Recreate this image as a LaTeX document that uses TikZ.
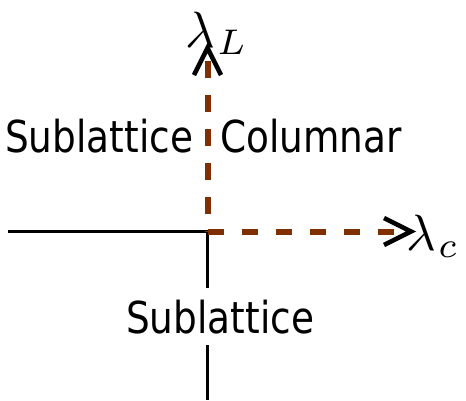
\documentclass[tikz,border=0pt]{standalone}
\usepackage{graphicx}
\usepackage{fontspec}
\setmainfont{DejaVu Sans}[FakeStretch=0.85]
\usetikzlibrary{calc}
\definecolor{axisbrown}{RGB}{128,48,0}
\tikzset{
  dashaxis/.style={draw=axisbrown, line width=6pt, dash pattern=on 16.5pt off 17.5pt},
  plainaxis/.style={draw=black, line width=2.5pt},
  chevron/.style={draw=black, line width=4.5pt, line join=miter, line cap=butt},
  phaselabel/.style={anchor=base west, inner sep=0pt, font=\fontsize{44}{52}\selectfont},
  axislabel/.style={anchor=base west, inner sep=0pt}
}
\begin{document}
\begin{tikzpicture}[x=1pt,y=-1pt]
\useasboundingbox (0,0) rectangle (466,400);
% coordinates
\coordinate (O) at (207.5,231.5);
\coordinate (Ttip) at (207.5,48);
\coordinate (Tstart) at (207.5,61);
\coordinate (Rtip) at (411,231.5);
\coordinate (Rend) at (397,231.5);
\coordinate (Lend) at (8,231.5);
\coordinate (Bgap1) at (207.5,288);
\coordinate (Bgap2) at (207.5,345);
\coordinate (Bend) at (207.5,400);
% black solid lines
\draw[plainaxis] (Lend) -- (O);
\draw[plainaxis] (O) -- (Bgap1);
\draw[plainaxis] (Bgap2) -- (Bend);
% brown dashed axes
\draw[dashaxis] (Tstart) -- (O);
\draw[dashaxis] (O) -- (Rend);
% chevrons
\draw[chevron] ($(Ttip)+(-13.5,27)$) -- (Ttip) -- ($(Ttip)+(13.5,27)$);
\draw[chevron] ($(Rtip)+(-27,-13.5)$) -- (Rtip) -- ($(Rtip)+(-27,13.5)$);
% labels
\node[axislabel] (lamL) at (185,47) {\scalebox{5.1}{$\lambda_{\mkern1mu L}$}};
\node[axislabel] (lamc) at (406,250) {\scalebox{5.1}{$\lambda_{\mkern1mu c}$}};
\node[phaselabel] (subTop) at (5,152) {Sublattice};
\node[phaselabel] (colTop) at (220,152) {Columnar};
\node[phaselabel] (subBot) at (126,333) {Sublattice};
\end{tikzpicture}
\end{document}
